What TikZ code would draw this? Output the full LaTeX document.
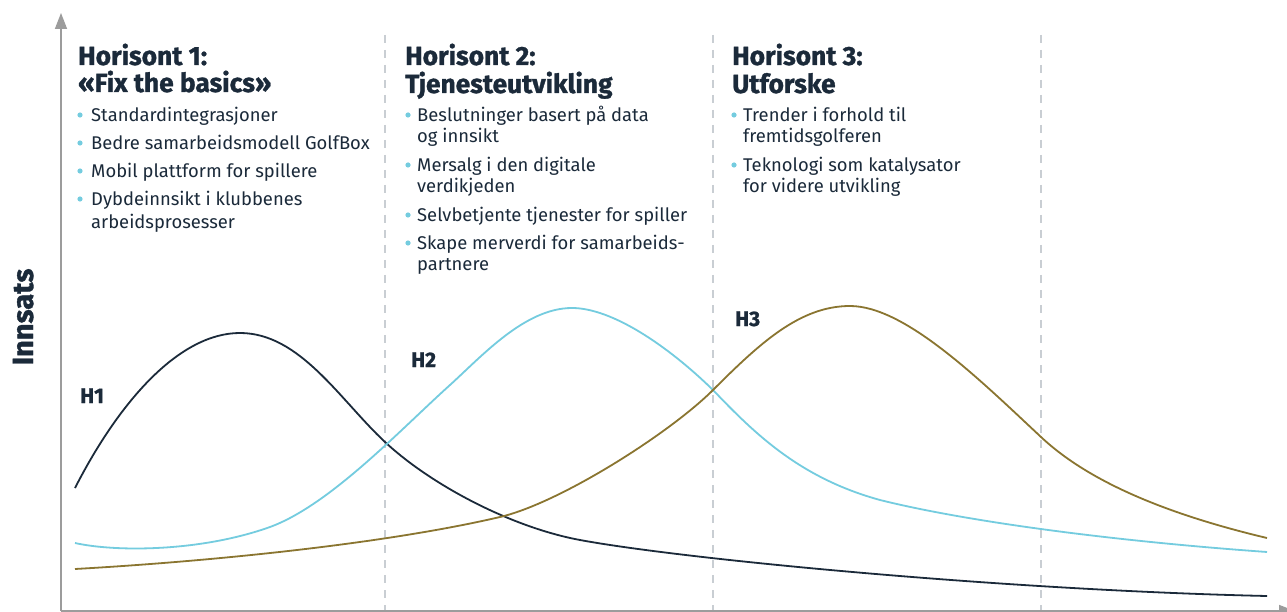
\documentclass[tikz,border=0pt]{standalone}
\usepackage{fontspec}
\setmainfont{Fira Sans}
\newfontfamily\heavyfont{Fira Sans}[BoldFeatures={FakeBold=1.2}]
\usetikzlibrary{arrows.meta}
\definecolor{navy}{HTML}{1B2A3A}
\definecolor{sky}{HTML}{74CCDF}
\definecolor{olive}{HTML}{8A7530}
\definecolor{axisgray}{HTML}{9C9C9C}
\definecolor{dashgray}{HTML}{C9CED3}
\begin{document}
\begin{tikzpicture}[x=1pt,y=-1pt,
  title/.style={anchor=base west, inner sep=0pt, font=\heavyfont\fontsize{26.3}{27}\selectfont\bfseries, text=navy},
  body/.style={anchor=base west, inner sep=0pt, font=\fontsize{18.4}{20}\selectfont, text=navy},
  hlabel/.style={anchor=base west, inner sep=0pt, font=\heavyfont\fontsize{21}{22}\selectfont\bfseries, text=navy},
  bullet/.style={fill=sky},
  axisline/.style={draw=axisgray, line width=1.6pt},
  dashline/.style={draw=dashgray, line width=1.8pt, dash pattern=on 8pt off 7pt},
  hone/.style={draw=navy, line width=1.8pt},
  htwo/.style={draw=sky, line width=1.8pt},
  hthree/.style={draw=olive, line width=1.8pt}]
\clip (0,0) rectangle (1287,612);
\fill[white] (0,0) rectangle (1287,612);

% dashed separators
\coordinate (d1t) at (385,35); \coordinate (d1b) at (385,611);
\coordinate (d2t) at (713,35); \coordinate (d2b) at (713,611);
\coordinate (d3t) at (1041,35); \coordinate (d3b) at (1041,611);
\draw[dashline] (d1t) -- (d1b);
\draw[dashline] (d2t) -- (d2b);
\draw[dashline] (d3t) -- (d3b);

% axes
\coordinate (O) at (61,611);
\coordinate (ytop) at (61,13);
\coordinate (xend) at (1295,611);
\draw[axisline, -{Triangle[length=16pt,width=12pt]}] (O) -- (ytop);
\draw[axisline, -{Triangle[length=16pt,width=12pt]}] (O) -- (xend);

% curves
\draw[hone] (75,488) .. controls (120,400) and (180,333) .. (240,333)
  .. controls (300,333) and (340,400) .. (385,442)
  .. controls (430,484) and (510,527) .. (580,540)
  .. controls (680,558.6) and (1000,590) .. (1267,596);
\draw[htwo] (75,543) .. controls (115,552) and (200,552) .. (270,527)
  .. controls (330,505) and (400,430) .. (450,385)
  .. controls (482,356) and (525,308) .. (572,308)
  .. controls (612,308) and (668,346) .. (713,390)
  .. controls (755,434) and (800,478) .. (880,500)
  .. controls (960,520) and (1100,540) .. (1267,552);
\draw[hthree] (75,569) .. controls (200,562) and (380,545) .. (500,517)
  .. controls (560,503) and (670,433) .. (713,390)
  .. controls (760,343) and (800,306) .. (850,306)
  .. controls (905,306) and (980,380) .. (1041,437)
  .. controls (1090,483) and (1170,515) .. (1267,538);

% curve labels
\node[hlabel] (lh1) at (80,403) {H1};
\node[hlabel] (lh2) at (411,367) {H2};
\node[hlabel] (lh3) at (735,326) {H3};

% y axis label
\node[anchor=base, inner sep=0pt, rotate=90, font=\heavyfont\fontsize{29}{30}\selectfont\bfseries, text=navy] (innsats) at (33,317) {Innsats};

% column 1
\node[title] (t1a) at (78,65) {Horisont 1:};
\node[title] (t1b) at (78,92) {«Fix the basics»};
\fill[bullet] (80,115) circle (2.6pt);
\node[body] (c1a) at (91,122) {Standardintegrasjoner};
\fill[bullet] (80,143) circle (2.6pt);
\node[body] (c1b) at (91,150) {Bedre samarbeidsmodell GolfBox};
\fill[bullet] (80,171) circle (2.6pt);
\node[body] (c1c) at (91,178) {Mobil plattform for spillere};
\fill[bullet] (80,199) circle (2.6pt);
\node[body] (c1d) at (91,206) {Dybdeinnsikt i klubbenes};
\node[body] (c1e) at (91,229) {arbeidsprosesser};

% column 2
\node[title] (t2a) at (405,65) {Horisont 2:};
\node[title] (t2b) at (405,93) {Tjenesteutvikling};
\fill[bullet] (408,115) circle (2.6pt);
\node[body] (c2a) at (417,122) {Beslutninger basert på data};
\node[body] (c2b) at (417,143) {og innsikt};
\fill[bullet] (408,165) circle (2.6pt);
\node[body] (c2c) at (417,172) {Mersalg i den digitale};
\node[body] (c2d) at (417,193) {verdikjeden};
\fill[bullet] (408,215) circle (2.6pt);
\node[body] (c2e) at (417,222) {Selvbetjente tjenester for spiller};
\fill[bullet] (408,243) circle (2.6pt);
\node[body] (c2f) at (417,250) {Skape merverdi for samarbeids-};
\node[body] (c2g) at (417,271) {partnere};

% column 3
\node[title] (t3a) at (732,65) {Horisont 3:};
\node[title] (t3b) at (732,93) {Utforske};
\fill[bullet] (734,115) circle (2.6pt);
\node[body] (c3a) at (743,122) {Trender i forhold til};
\node[body] (c3b) at (743,143) {fremtidsgolferen};
\fill[bullet] (734,165) circle (2.6pt);
\node[body] (c3c) at (743,172) {Teknologi som katalysator};
\node[body] (c3d) at (743,193) {for videre utvikling};
\end{tikzpicture}
\end{document}
